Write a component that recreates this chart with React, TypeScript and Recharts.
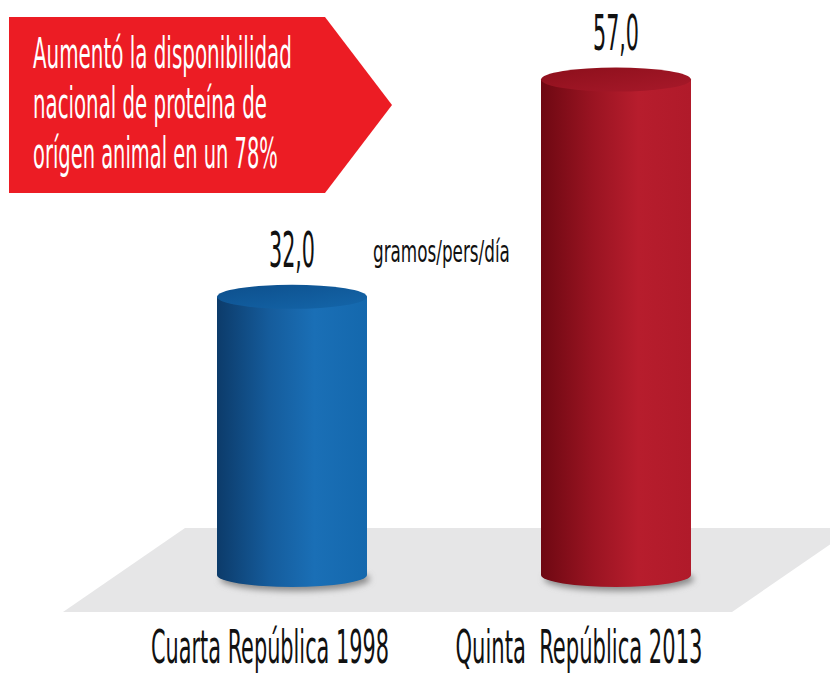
import { Bar, BarChart, LabelList, XAxis, YAxis } from "recharts";

const categories = ["Cuarta República 1998", "Quinta  República 2013"];
const values = [32.0, 57.0];
const valueLabels = ["32,0", "57,0"];
const unitLabel = "gramos/pers/día";
const bannerLines = [
  "Aumentó la disponibilidad",
  "nacional de proteína de",
  "orígen animal en un 78%",
];

const data = categories.map((name, i) => ({ name, value: values[i], label: valueLabels[i] }));

const W = 830;
const H = 673;
const FONT = "'Liberation Sans Narrow', 'DejaVu Sans Condensed', Roboto, sans-serif";
const RY = 12;
// category captions sit a little left of the cylinders
const tickShift = [-22, -37];
const tickWidth = [238, 247];
const bannerWidth = [259, 234, 245];

const palettes = [
  { id: "blue", side: ["#0c3b6a", "#155c9c", "#1a6fb6", "#1468ad"], top: ["#0d4f8c", "#1466aa"] },
  { id: "red", side: ["#6e0812", "#9a1422", "#b71d2d", "#b01a2a"], top: ["#8c0f1b", "#a8192a"] },
];

let ctx: CanvasRenderingContext2D | null = null;
function measure(text: string, size: number) {
  if (!ctx) ctx = document.createElement("canvas").getContext("2d");
  if (!ctx) return text.length * size * 0.45;
  ctx.font = `${size}px ${FONT}`;
  return ctx.measureText(text).width;
}

// condensed text squeezed to a given width (the reference uses a very narrow face)
function FitText({ x, y, text, size, width, anchor = "start", fill = "#111" }: any) {
  const s = width / measure(text, size);
  return (
    <text
      transform={`translate(${x},${y}) scale(${s},1)`}
      textAnchor={anchor}
      fontFamily={FONT}
      fontSize={size}
      fill={fill}
      style={{ whiteSpace: "pre" }}
    >
      {text}
    </text>
  );
}

function Cylinder(props: any) {
  const { x, y, width, height, index } = props;
  const p = palettes[index % palettes.length];
  const cx = x + width / 2;
  const rx = width / 2;
  const bottom = y + height;
  const body = `M${x},${y} L${x},${bottom} A${rx},${RY} 0 0 0 ${x + width},${bottom} L${x + width},${y} Z`;
  return (
    <g>
      <defs>
        <linearGradient id={`side-${p.id}`} x1="0" y1="0" x2="1" y2="0">
          <stop offset="0%" stopColor={p.side[0]} />
          <stop offset="35%" stopColor={p.side[1]} />
          <stop offset="65%" stopColor={p.side[2]} />
          <stop offset="100%" stopColor={p.side[3]} />
        </linearGradient>
        <linearGradient id={`top-${p.id}`} x1="0" y1="0" x2="1" y2="1">
          <stop offset="0%" stopColor={p.top[0]} />
          <stop offset="100%" stopColor={p.top[1]} />
        </linearGradient>
        <filter id={`blur-${p.id}`} x="-20%" y="-100%" width="140%" height="300%">
          <feGaussianBlur stdDeviation="3" />
        </filter>
      </defs>
      <ellipse cx={cx + 3} cy={bottom + 4} rx={rx} ry={RY} fill="#8a8a8a" filter={`url(#blur-${p.id})`} />
      <path d={body} fill={`url(#side-${p.id})`} />
      <ellipse cx={cx} cy={y} rx={rx} ry={RY} fill={`url(#top-${p.id})`} />
    </g>
  );
}

function ValueLabel(props: any) {
  const { x, y, width, value } = props;
  return <FitText x={x + width / 2} y={y - RY - 18} text={String(value)} size={50} width={46} anchor="middle" />;
}

function CategoryTick(props: any) {
  const { x, y, payload, index } = props;
  return (
    <FitText
      x={x + tickShift[index]}
      y={y + 80}
      text={payload.value}
      size={46}
      width={tickWidth[index]}
      anchor="middle"
    />
  );
}

function Backdrop() {
  return (
    <svg width={W} height={H} style={{ position: "absolute", left: 0, top: 0 }}>
      <polygon points="185,528 854,528 732,612 63,612" fill="#e6e6e7" />
      <polygon points="9,17 325,17 392,105 325,193 9,193" fill="#ec1c24" />
      {bannerLines.map((line, i) => (
        <FitText key={i} x={33} y={68 + i * 50} text={line} size={42} width={bannerWidth[i]} fill="#fff" />
      ))}
      <FitText x={373} y={262} text={unitLabel} size={31} width={137} />
    </svg>
  );
}

export default function App() {
  return (
    <div style={{ position: "absolute", left: 0, top: 0, width: W, height: H, background: "#fff" }}>
      <Backdrop />
      <div style={{ position: "absolute", left: 0, top: 0 }}>
        <BarChart
          width={W}
          height={H}
          data={data}
          margin={{ top: 10, right: 52, left: 130, bottom: 68 }}
          barSize={150}
        >
          <XAxis dataKey="name" height={30} axisLine={false} tickLine={false} tick={<CategoryTick />} interval={0} />
          <YAxis hide domain={[0, 65]} />
          <Bar dataKey="value" shape={<Cylinder />} isAnimationActive={false}>
            <LabelList dataKey="label" content={<ValueLabel />} />
          </Bar>
        </BarChart>
      </div>
    </div>
  );
}
